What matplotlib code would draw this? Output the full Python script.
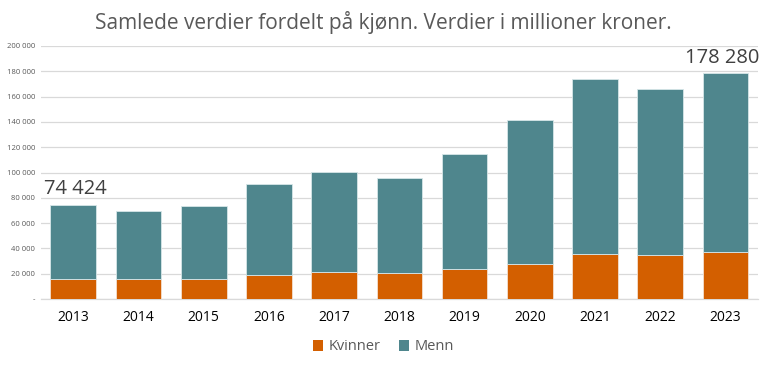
import matplotlib
matplotlib.use("Agg")
import matplotlib.pyplot as plt
from matplotlib.ticker import FuncFormatter

plt.rcParams['font.family'] = ['Open Sans', 'DejaVu Sans']

years = ["2013", "2014", "2015", "2016", "2017", "2018", "2019", "2020", "2021", "2022", "2023"]
kvinner = [16100, 16000, 16000, 18700, 21600, 20300, 24000, 27700, 35800, 34800, 37200]
totals = [74424, 69300, 73500, 90900, 100400, 95400, 114900, 141200, 173700, 166300, 178280]
menn = [t - k for t, k in zip(totals, kvinner)]
title = "Samlede verdier fordelt på kjønn. Verdier i millioner kroner."

c_k = "#D35F00"
c_m = "#4F868D"

fig = plt.figure(figsize=(7.67, 3.65), dpi=100)
ax = fig.add_axes([40.7 / 767, 1 - 299 / 365, (758 - 40.7) / 767, (299 - 46) / 365])

x = list(range(len(years)))
ax.bar(x, kvinner, width=0.70, color=c_k, edgecolor="#f3e0d0", linewidth=0.6, label="Kvinner", zorder=3)
ax.bar(x, menn, bottom=kvinner, width=0.70, color=c_m, edgecolor="#d7e6e8", linewidth=0.6, label="Menn", zorder=3)

ax.set_xlim(-0.5, len(years) - 0.5)
ax.set_ylim(0, 200000)
ax.set_yticks(range(0, 200001, 20000))
ax.yaxis.set_major_formatter(FuncFormatter(lambda v, p: "-" if v == 0 else f"{int(v):,}".replace(",", " ")))
ax.set_xticks(x)
ax.set_xticklabels(years)
ax.tick_params(axis="y", labelsize=5.5, colors="#595959", length=0, pad=4)
ax.tick_params(axis="x", labelsize=10, colors="#000000", length=0, pad=8)
ax.grid(axis="y", color="#d9d9d9", linewidth=0.9, zorder=0)
for s in ["top", "right", "left"]:
    ax.spines[s].set_visible(False)
ax.spines["bottom"].set_color("#d9d9d9")
ax.spines["bottom"].set_linewidth(0.9)

def fmt(v):
    return f"{v:,}".replace(",", " ")

ax.text(-0.45, totals[0] + 5000, fmt(totals[0]), fontsize=14.5, color="#404040", ha="left", va="bottom")
ax.text(10.52, totals[-1] + 4000, fmt(totals[-1]), fontsize=14.5, color="#404040", ha="right", va="bottom")

fig.text(0.5, 1 - 22 / 365, title, fontsize=15, color="#595959", ha="center", va="center")

leg = fig.legend(loc="center", bbox_to_anchor=(0.5, 1 - 347 / 365), ncol=2, frameon=False,
                 fontsize=10.5, handlelength=0.7, handleheight=0.7, handletextpad=0.4, columnspacing=1.2)
for t in leg.get_texts():
    t.set_color("#595959")
for h in leg.legend_handles:
    h.set_edgecolor("none")

fig.savefig("out.png", dpi=100)
